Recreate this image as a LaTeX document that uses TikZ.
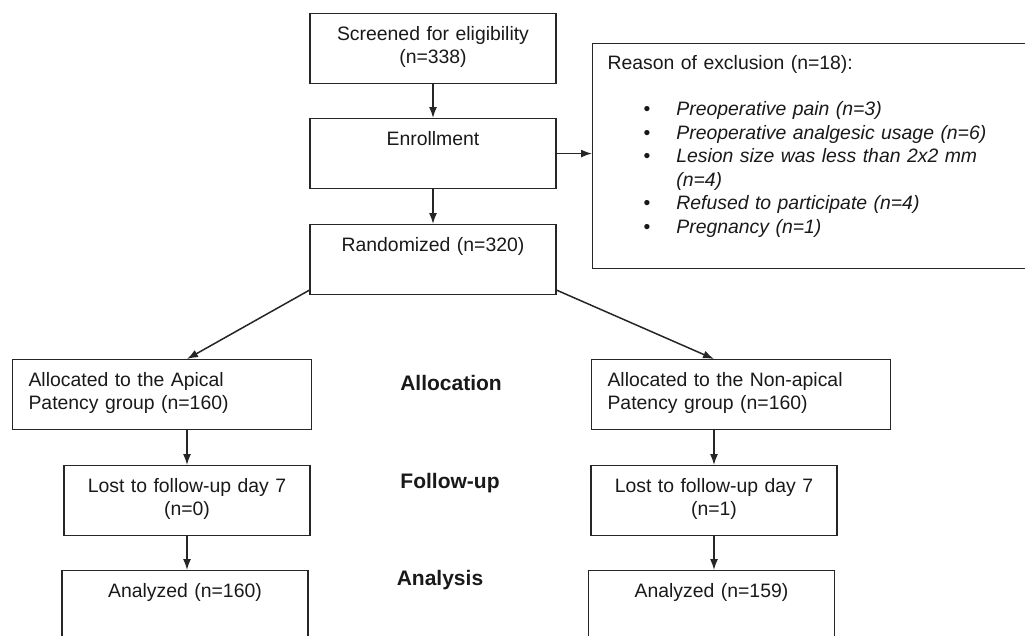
\documentclass[tikz,border=0pt]{standalone}
\usepackage{fontspec}
\setmainfont{Liberation Sans}
\usetikzlibrary{arrows.meta}
\renewcommand{\arraystretch}{1.045}

\tikzset{
  box/.style={draw=black!85, line width=1.1pt, inner xsep=0pt, inner ysep=0pt,
    text width=246pt, align=center, text height=27pt, text depth=43pt,
    font=\fontsize{19.4}{22.5}\selectfont, text=black!90},
  leftbox/.style={box, inner xsep=16pt, text width=267pt, align=left},
  phase/.style={font=\fontsize{21}{25}\selectfont\bfseries, text=black!90},
}

\begin{document}
\begin{tikzpicture}[x=1pt, y=-1pt, line width=1.5pt, draw=black!85,
    >={Latex[length=11pt,width=8pt]}]
  \useasboundingbox (0,0) rectangle (1025,635);
  \clip (0,0) rectangle (1025,635);

  % main column
  \node (screen) [box, anchor=north] at (433,13) {Screened for eligibility\\(n=338)};
  \node (enrol) [box, anchor=north] at (433,118) {Enrollment};
  \node (rand) [box, anchor=north] at (433,224) {Randomized (n=320)};

  \node (excl) [box, anchor=north west, inner xsep=15pt, text width=420pt,
    align=left, text height=26pt, text depth=199pt] at (592,43)
    {Reason of exclusion (n=18):\\[23.5pt]
     \begin{tabular}[t]{@{\hspace{36pt}}l@{\hspace{26pt}}l@{}}
       \textbullet & \textit{Preoperative pain (n=3)}\\
       \textbullet & \textit{Preoperative analgesic usage (n=6)}\\
       \textbullet & \textit{Lesion size was less than 2x2 mm}\\
                   & \textit{(n=4)}\\
       \textbullet & \textit{Refused to participate (n=4)}\\
       \textbullet & \textit{Pregnancy (n=1)}
     \end{tabular}};

  % two arms
  \node (allocA) [leftbox, anchor=north west] at (12,359) {Allocated to the Apical\\Patency group (n=160)};
  \node (allocB) [leftbox, anchor=north west] at (591,359) {Allocated to the Non-apical\\Patency group (n=160)};
  \node (lostA) [box, anchor=north] at (187,465) {Lost to follow-up day 7\\(n=0)};
  \node (lostB) [box, anchor=north] at (714,465) {Lost to follow-up day 7\\(n=1)};
  \node (anaA) [box, anchor=north] at (185,570) {Analyzed (n=160)};
  \node (anaB) [box, anchor=north] at (711.5,570) {Analyzed (n=159)};

  \node (allocation) [phase] at (451,383) {Allocation};
  \node (followup) [phase] at (450,483) {Follow-up};
  \node (analysis) [phase] at (440,580) {Analysis};

  \draw[->] (screen) -- (enrol);
  \draw[->] (enrol) -- (rand);
  \draw[->] (enrol.east) -- (enrol.east -| excl.west);
  \draw[->] ([yshift=5pt]rand.south west) -- (lostA.north |- allocA.north);
  \draw[->] ([yshift=5pt]rand.south east) -- (lostB.north |- allocB.north);
  \draw[->] (allocA.south -| lostA.north) -- (lostA.north);
  \draw[->] (allocB.south -| lostB.north) -- (lostB.north);
  \draw[->] (lostA.south) -- (lostA.south |- anaA.north);
  \draw[->] (lostB.south) -- (lostB.south |- anaB.north);
\end{tikzpicture}
\end{document}
